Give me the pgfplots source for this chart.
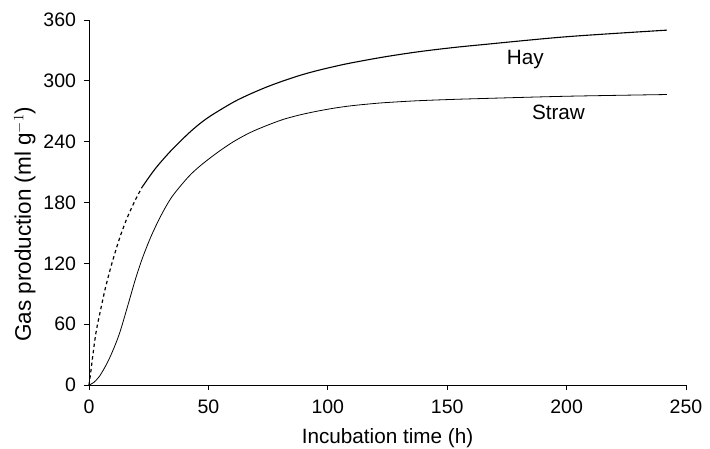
\documentclass[border=0pt]{standalone}
\usepackage{pgfplots}
\pgfplotsset{compat=1.18}
\usepackage{fontspec}
\setmainfont{Liberation Sans}

% Hay, early part (drawn dotted)
\pgfplotstableread{
x y
0 0
0.7 12
1.7 31
2.8 50
3.5 59
5.3 79
6.9 96
9 115
11.1 132
13.2 147.5
16 165
19.4 182.5
22.2 195
}\haydot

\pgfplotstableread{
x y
22.2 195
27.8 213.5
34.7 232
43 251
50 264
60.5 279
67.5 287
74.5 294
81.4 300
88.5 305.5
95.4 310
102.5 314
109.4 317.5
123.4 323.5
137.4 328.5
151.3 332.5
163.9 335.5
200 343.5
242 350
}\hay

\pgfplotstableread{
x y
0 0
2 2.5
4.2 8
6.3 16
8.3 25
10 34
11.8 44.5
13.2 54
14.6 65
16.7 82
19.4 104
22.2 124
25.7 145
29.9 166
34.7 185.5
41.7 205.5
47 217
53.9 229.5
60.5 240
67.5 249
74.5 256
81.4 262
88.5 266.5
95.4 270
102.5 273
109.4 275.3
116.5 277
123.4 278.4
137 280.3
151.3 281.6
163.9 282.5
200 284.8
242 286.5
}\straw

\begin{document}
\begin{tikzpicture}
\begin{axis}[
    scale only axis,
    width=597pt, height=365pt,
    xmin=0, xmax=250, ymin=0, ymax=360,
    axis lines=left,
    axis line style={-, line width=0.8pt},
    xtick={0,50,...,250},
    ytick={0,60,...,360},
    tick align=outside,
    major tick length=5pt,
    tick style={line width=0.8pt, black},
    /pgf/number format/assume math mode=true,
    ticklabel style={font=\fontsize{19.5}{23}\selectfont},
    xticklabel style={yshift=-6pt},
    yticklabel style={xshift=-4.5pt},
    xlabel={Incubation time (h)},
    ylabel={Gas production (ml g$^{-1}$)},
    xlabel style={font=\fontsize{20.7}{24}\selectfont, inner sep=0pt,
        at={(axis description cs:0.5,0)}, anchor=base, yshift=-58.5pt},
    ylabel style={font=\fontsize{22.5}{26}\selectfont, inner sep=0pt,
        at={(axis description cs:0,0.44)}, anchor=base, yshift=58pt},
    clip=false,
]
\addplot[black, line width=1.2pt, dash pattern=on 3.4pt off 3pt, smooth] table {\haydot};
\addplot[black, line width=1.1pt, smooth] table {\hay};
\addplot[black, line width=0.8pt, smooth] table {\straw};
\node[font=\fontsize{20.7}{24}\selectfont] at (axis cs:182.7,321.5) {Hay};
\node[font=\fontsize{20.7}{24}\selectfont] at (axis cs:196.6,268.6) {Straw};
\end{axis}
\path (current axis.south west) ++(-89pt,-63pt) rectangle ++(710pt,448pt);
\end{tikzpicture}
\end{document}
